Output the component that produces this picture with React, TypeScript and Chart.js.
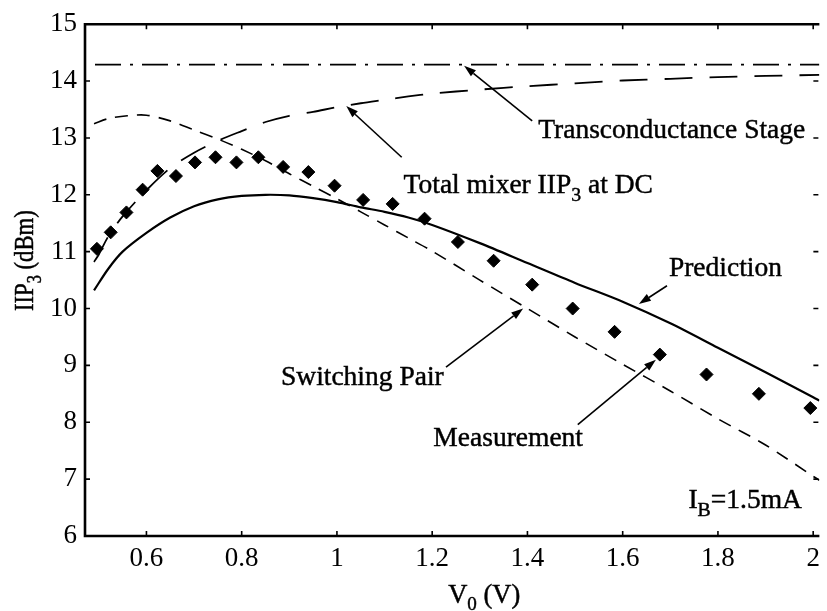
import { useEffect, useRef } from "react";
import { Chart, registerables } from "chart.js";

Chart.register(...registerables);

const FONT = "'Liberation Serif', 'Times New Roman', serif";

// Axis ranges and ticks
const X_MIN = 0.471;
const X_MAX = 2.013;
const Y_MIN = 6;
const Y_MAX = 15;
const xTickValues = [0.6, 0.8, 1.0, 1.2, 1.4, 1.6, 1.8, 2.0];
const xTickLabels = ["0.6", "0.8", "1", "1.2", "1.4", "1.6", "1.8", "2"];
const yTickValues = [6, 7, 8, 9, 10, 11, 12, 13, 14, 15];
const yTickLabels = ["6", "7", "8", "9", "10", "11", "12", "13", "14", "15"];

// Measured IIP3 (diamonds)
const measV = [0.496, 0.525, 0.558, 0.592, 0.623, 0.662, 0.702, 0.745, 0.789, 0.835, 0.887, 0.94, 0.995, 1.055, 1.117, 1.184, 1.254, 1.329, 1.41, 1.495, 1.583, 1.678, 1.776, 1.886, 1.994];
const measIIP3 = [11.05, 11.34, 11.69, 12.09, 12.42, 12.33, 12.57, 12.66, 12.57, 12.66, 12.49, 12.4, 12.16, 11.91, 11.84, 11.58, 11.17, 10.84, 10.42, 10.0, 9.59, 9.19, 8.84, 8.5, 8.25];

// Predicted IIP3 (solid)
const predV = [0.49, 0.52, 0.55, 0.6, 0.65, 0.7, 0.75, 0.8, 0.85, 0.9, 0.95, 1.0, 1.05, 1.1, 1.15, 1.2, 1.3, 1.4, 1.5, 1.6, 1.7, 1.8, 1.9, 2.0, 2.013];
const predIIP3 = [10.32, 10.7, 11.0, 11.33, 11.6, 11.8, 11.92, 11.98, 12.0, 11.99, 11.94, 11.87, 11.78, 11.7, 11.6, 11.47, 11.15, 10.8, 10.45, 10.12, 9.74, 9.31, 8.88, 8.44, 8.38];

// Switching pair contribution (short dashes)
const swV = [0.49, 0.52, 0.56, 0.6, 0.65, 0.7, 0.75, 0.8, 0.85, 0.9, 0.95, 1.0, 1.05, 1.1, 1.15, 1.2, 1.3, 1.4, 1.5, 1.6, 1.7, 1.8, 1.9, 2.0, 2.013];
const swIIP3 = [13.25, 13.34, 13.39, 13.4, 13.3, 13.14, 12.98, 12.8, 12.6, 12.37, 12.15, 11.93, 11.7, 11.47, 11.24, 11.01, 10.5, 10.0, 9.5, 9.02, 8.55, 8.06, 7.6, 7.05, 6.98];

// Total mixer IIP3 at DC (long dashes)
const tmV = [0.49, 0.5, 0.52, 0.55, 0.6, 0.65, 0.7, 0.75, 0.8, 0.85, 0.9, 0.95, 1.0, 1.05, 1.1, 1.15, 1.2, 1.3, 1.4, 1.5, 1.6, 1.7, 1.8, 1.9, 2.013];
const tmIIP3 = [10.82, 10.95, 11.27, 11.62, 12.08, 12.47, 12.74, 12.95, 13.12, 13.28, 13.39, 13.46, 13.54, 13.61, 13.67, 13.73, 13.78, 13.85, 13.91, 13.96, 14.01, 14.04, 14.07, 14.09, 14.11];

// Transconductance stage (dash-dot, constant)
const gmV = [0.492, 2.013];
const gmIIP3 = [14.29, 14.29];

type Part = { t: string; sub?: boolean };
type Note = { parts: Part[]; x: number; y: number; from?: [number, number]; to?: [number, number] };

// Curve labels with leader arrows, positioned in data units
const notes: Note[] = [
  { parts: [{ t: "Transconductance Stage" }], x: 1.4226, y: 13.0, from: [1.41, 13.3], to: [1.267, 14.27] },
  { parts: [{ t: "Total mixer IIP" }, { t: "3", sub: true }, { t: " at DC" }], x: 1.14, y: 12.03, from: [1.136, 12.66], to: [1.0196, 13.56] },
  { parts: [{ t: "Prediction" }], x: 1.697, y: 10.58, from: [1.693, 10.4], to: [1.634, 10.08] },
  { parts: [{ t: "Switching Pair" }], x: 0.8825, y: 8.65, from: [1.229, 8.97], to: [1.391, 10.0] },
  { parts: [{ t: "Measurement" }], x: 1.2024, y: 7.58, from: [1.5057, 7.96], to: [1.6698, 9.1] },
  { parts: [{ t: "I" }, { t: "B", sub: true }, { t: "=1.5mA" }], x: 1.738, y: 6.49 },
];

const xTitle: Part[] = [{ t: "V" }, { t: "0", sub: true }, { t: " (V)" }];
const yTitle: Part[] = [{ t: "IIP" }, { t: "3", sub: true }, { t: " (dBm)" }];

const toPoints = (xs: number[], ys: number[]) => xs.map((x, i) => ({ x, y: ys[i] }));

function drawRich(ctx: CanvasRenderingContext2D, parts: Part[], x: number, y: number, size: number) {
  let cx = x;
  ctx.lineWidth = 0.45;
  for (const p of parts) {
    const s = p.sub ? size * 0.72 : size;
    ctx.font = `${s}px ${FONT}`;
    const ty = y + (p.sub ? size * 0.28 : 0);
    ctx.fillText(p.t, cx, ty);
    ctx.strokeText(p.t, cx, ty);
    cx += ctx.measureText(p.t).width;
  }
  return cx - x;
}

function drawArrow(ctx: CanvasRenderingContext2D, x1: number, y1: number, x2: number, y2: number) {
  const ang = Math.atan2(y2 - y1, x2 - x1);
  const len = 12;
  const hw = 4;
  const bx = x2 - len * Math.cos(ang);
  const by = y2 - len * Math.sin(ang);
  ctx.lineWidth = 1.6;
  ctx.beginPath();
  ctx.moveTo(x1, y1);
  ctx.lineTo(bx, by);
  ctx.stroke();
  ctx.beginPath();
  ctx.moveTo(x2, y2);
  ctx.lineTo(bx + hw * Math.sin(ang), by - hw * Math.cos(ang));
  ctx.lineTo(bx - hw * Math.sin(ang), by + hw * Math.cos(ang));
  ctx.closePath();
  ctx.fill();
}

const figurePlugin = {
  id: "figureFrameAndNotes",
  afterDatasetsDraw(chart: any) {
    const { ctx, chartArea: a, scales } = chart;
    const xs = scales.x;
    const ys = scales.y;
    ctx.save();
    ctx.strokeStyle = "#000";
    ctx.fillStyle = "#000";
    ctx.setLineDash([]);

    // frame: left, top and bottom axis lines
    ctx.lineWidth = 2.6;
    ctx.beginPath();
    ctx.moveTo(a.right, a.top);
    ctx.lineTo(a.left, a.top);
    ctx.lineTo(a.left, a.bottom);
    ctx.lineTo(a.right, a.bottom);
    ctx.stroke();

    // inward tick marks on all four sides
    ctx.lineWidth = 1.6;
    const L = 5;
    ctx.beginPath();
    for (const v of xTickValues) {
      const px = xs.getPixelForValue(v);
      ctx.moveTo(px, a.bottom);
      ctx.lineTo(px, a.bottom - L);
      ctx.moveTo(px, a.top);
      ctx.lineTo(px, a.top + L);
    }
    for (const v of yTickValues) {
      const py = ys.getPixelForValue(v);
      ctx.moveTo(a.left, py);
      ctx.lineTo(a.left + L, py);
      ctx.moveTo(a.right - 1, py);
      ctx.lineTo(a.right - 1 - L, py);
    }
    ctx.stroke();

    // curve labels and arrows
    ctx.textAlign = "left";
    ctx.textBaseline = "alphabetic";
    for (const n of notes) {
      drawRich(ctx, n.parts, xs.getPixelForValue(n.x), ys.getPixelForValue(n.y), 27.5);
      if (n.from && n.to) {
        drawArrow(
          ctx,
          xs.getPixelForValue(n.from[0]),
          ys.getPixelForValue(n.from[1]),
          xs.getPixelForValue(n.to[0]),
          ys.getPixelForValue(n.to[1])
        );
      }
    }

    // axis titles
    drawRich(ctx, xTitle, xs.getPixelForValue(1.2336), a.bottom + 67, 26.5);
    ctx.save();
    ctx.translate(33, 311);
    ctx.rotate(-Math.PI / 2);
    ctx.scale(0.84, 1.05);
    drawRich(ctx, yTitle, 0, 0, 27);
    ctx.restore();

    ctx.restore();
  },
};

export default function App() {
  const canvasRef = useRef<HTMLCanvasElement | null>(null);

  useEffect(() => {
    const canvas = canvasRef.current;
    if (!canvas) return;
    const chart = new Chart(canvas, {
      type: "line",
      data: {
        datasets: [
          {
            label: "Transconductance Stage",
            data: toPoints(gmV, gmIIP3),
            borderColor: "#000",
            borderWidth: 1.6,
            borderDash: [26, 9, 3, 9],
            pointRadius: 0,
            fill: false,
          },
          {
            label: "Total mixer IIP3 at DC",
            data: toPoints(tmV, tmIIP3),
            borderColor: "#000",
            borderWidth: 1.8,
            borderDash: [28, 17],
            pointRadius: 0,
            tension: 0.3,
            fill: false,
          },
          {
            label: "Switching Pair",
            data: toPoints(swV, swIIP3),
            borderColor: "#000",
            borderWidth: 1.6,
            borderDash: [13, 9],
            pointRadius: 0,
            tension: 0.3,
            fill: false,
          },
          {
            label: "Prediction",
            data: toPoints(predV, predIIP3),
            borderColor: "#000",
            borderWidth: 2.2,
            pointRadius: 0,
            tension: 0.3,
            fill: false,
          },
          {
            label: "Measurement",
            data: toPoints(measV, measIIP3),
            showLine: false,
            pointStyle: "rectRot",
            pointRadius: 6.5,
            pointBackgroundColor: "#000",
            pointBorderColor: "#000",
            pointBorderWidth: 1,
          },
        ],
      },
      options: {
        responsive: false,
        animation: false,
        devicePixelRatio: 1,
        layout: { padding: { top: 16, right: 0, bottom: 0, left: 0 } },
        plugins: { legend: { display: false }, tooltip: { enabled: false }, title: { display: false } },
        scales: {
          x: {
            type: "linear",
            min: X_MIN,
            max: X_MAX,
            grid: { display: false, drawTicks: false },
            border: { display: false },
            afterBuildTicks: (s: any) => {
              s.ticks = xTickValues.map((value) => ({ value }));
            },
            afterFit: (s: any) => {
              s.height = 75;
            },
            ticks: {
              color: "#000",
              padding: 7,
              maxRotation: 0,
              autoSkip: false,
              font: { family: FONT, size: 27 },
              callback: (_v: any, i: number) => xTickLabels[i],
            },
          },
          y: {
            type: "linear",
            min: Y_MIN,
            max: Y_MAX,
            grid: { display: false, drawTicks: false },
            border: { display: false },
            afterBuildTicks: (s: any) => {
              s.ticks = yTickValues.map((value) => ({ value }));
            },
            afterFit: (s: any) => {
              s.width = 85;
            },
            ticks: {
              color: "#000",
              padding: 8,
              autoSkip: false,
              font: { family: FONT, size: 27 },
              callback: (_v: any, i: number) => yTickLabels[i],
            },
          },
        },
      },
      plugins: [figurePlugin],
    });
    return () => chart.destroy();
  }, []);

  return (
    <div style={{ position: "absolute", left: 0, top: 0, width: 827, height: 611, background: "#fff" }}>
      <canvas ref={canvasRef} width={827} height={611} style={{ display: "block" }} />
    </div>
  );
}
